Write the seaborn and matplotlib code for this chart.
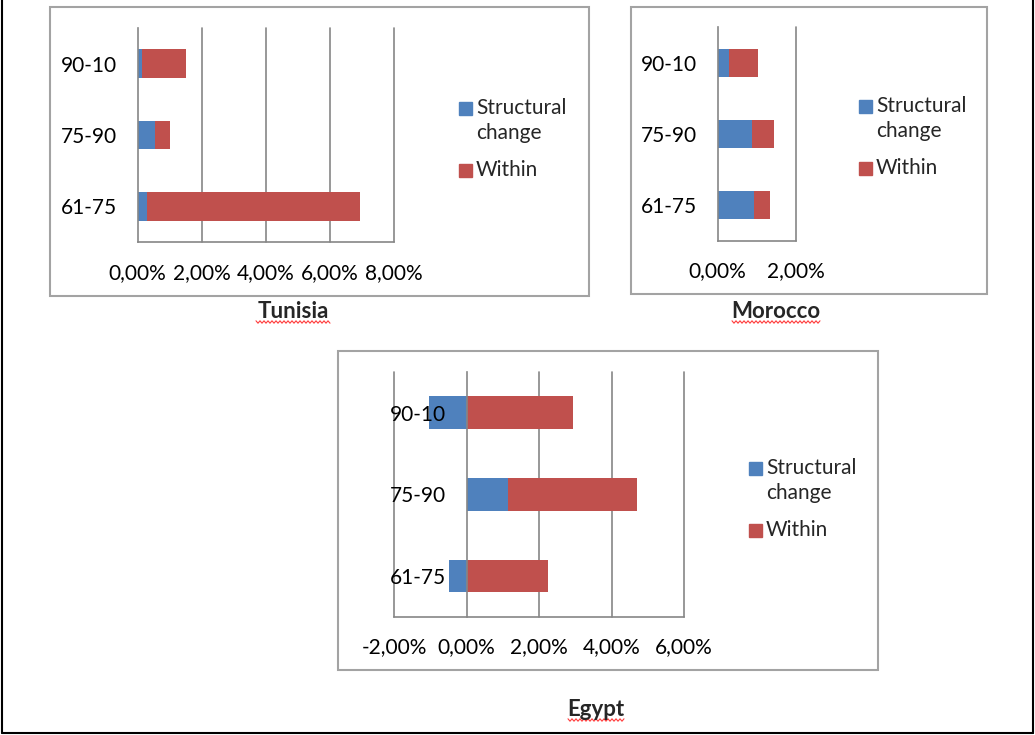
import numpy as np
import pandas as pd
import matplotlib
matplotlib.use('Agg')
import matplotlib.pyplot as plt
import matplotlib.ticker as mticker
from matplotlib.patches import Rectangle
from matplotlib.lines import Line2D
import seaborn as sns

# %%
# decomposition of growth (in %)
periods = ['90-10', '75-90', '61-75']

tunisia_structural = [0.12, 0.55, 0.29]
tunisia_within = [1.38, 0.47, 6.66]

morocco_structural = [0.29, 0.87, 0.92]
morocco_within = [0.75, 0.56, 0.42]

egypt_structural = [-1.05, 1.13, -0.49]
egypt_within = [2.94, 3.57, 2.24]

BLUE = '#4F81BD'
RED = '#C0504D'
GRID = '#868686'
BOX = '#A3A3A3'
FS = 15

sns.set_style('white')
plt.rcParams['font.family'] = ['Lato', 'DejaVu Sans']

W, H = 1035, 735
fig = plt.figure(figsize=(W / 100, H / 100), dpi=100)


def px(x0, y0, x1, y1):
    # pixel box (top-left origin) -> figure fraction rect
    return [x0 / W, 1 - y1 / H, (x1 - x0) / W, (y1 - y0) / H]


def pct(v, pos):
    return f'{v:.2f}%'.replace('.', ',')


def panel(box, structural, within, xlim, step):
    ax = fig.add_axes(px(*box))
    df = pd.DataFrame({'period': periods, 'structural': structural, 'within': within})
    # like Excel: red stacks after a positive blue, starts at zero after a negative one
    df['within_end'] = df['structural'].clip(lower=0) + df['within']

    sns.barplot(data=df, x='within_end', y='period', color=RED, width=0.4,
                saturation=1, errorbar=None, linewidth=0, ax=ax)
    sns.barplot(data=df, x='structural', y='period', color=BLUE, width=0.4,
                saturation=1, errorbar=None, linewidth=0, ax=ax)

    ax.set(xlabel='', ylabel='')
    ax.set_xlim(xlim)
    ax.set_ylim(len(periods) - 0.5, -0.5)
    ax.set_facecolor('none')
    ax.set_axisbelow(False)

    ax.xaxis.set_major_locator(mticker.MultipleLocator(step))
    ax.xaxis.set_major_formatter(mticker.FuncFormatter(pct))
    for v in ax.get_xticks():
        if xlim[0] - 1e-9 <= v <= xlim[1] + 1e-9 and abs(v) > 1e-9:
            ax.axvline(v, color=GRID, lw=1.2, zorder=0, clip_on=False)

    for s in ['top', 'right']:
        ax.spines[s].set_visible(False)
    ax.spines['left'].set_position(('data', 0))
    for s in ['left', 'bottom']:
        ax.spines[s].set_color(GRID)
        ax.spines[s].set_linewidth(1.2)

    ax.set_yticks(np.arange(len(periods) + 1) - 0.5, minor=True)
    ax.tick_params(axis='y', which='major', length=0, pad=15, labelsize=FS, labelcolor='black')
    ax.tick_params(axis='y', which='minor', length=6, width=1.2, color=GRID, direction='out')
    ax.tick_params(axis='x', which='major', length=5, width=1.2, color=GRID, direction='out',
                   pad=10, labelsize=FS, labelcolor='black')
    return ax


def legend(x, y):
    # x: left of the colour square, y: centre of the first text row (pixels)
    for color, row in [(BLUE, 0), (RED, 62)]:
        fig.add_artist(Rectangle(((x) / W, 1 - (y + row + 6.5) / H), 13 / W, 13 / H,
                                 transform=fig.transFigure, color=color))
    fig.text((x + 17) / W, 1 - y / H, 'Structural', fontsize=FS, va='center')
    fig.text((x + 17) / W, 1 - (y + 25) / H, 'change', fontsize=FS, va='center')
    fig.text((x + 17) / W, 1 - (y + 62) / H, 'Within', fontsize=FS, va='center')


def frame_box(x0, y0, x1, y1):
    fig.add_artist(Rectangle((x0 / W, 1 - y1 / H), (x1 - x0) / W, (y1 - y0) / H,
                             transform=fig.transFigure, fill=False, edgecolor=BOX, lw=1.5))


def title(text, xc, yc, x0, x1, yw):
    fig.text(xc / W, 1 - yc / H, text, fontsize=FS + 1, fontweight='bold', ha='center', va='center')
    # spell-check squiggle under the caption
    xs = np.arange(x0, x1 + 1, 2.0)
    ys = yw + np.where(np.arange(len(xs)) % 2 == 0, -1.2, 1.2)
    fig.add_artist(Line2D(xs / W, 1 - ys / H, transform=fig.transFigure, color='#FF3B3B', lw=0.8))


# %%
frame_box(50, 7, 589, 296)
frame_box(631, 7, 987, 294)
frame_box(338, 351, 878, 670)

panel((137.7, 28, 394, 242), tunisia_structural, tunisia_within, (0, 8), 2)
panel((717.7, 27.3, 796, 240.7), morocco_structural, morocco_within, (0, 2), 2)
panel((394.3, 371.7, 684, 616.7), egypt_structural, egypt_within, (-2, 6), 2)

legend(459, 108)
legend(859, 106)
legend(749, 468)

title('Tunisia', 293, 312, 256, 330, 322)
title('Morocco', 776, 312, 732, 820, 322)
title('Egypt', 596, 709, 568, 624, 720)

# outer page frame (left, bottom, right)
for xs, ys in [([1.5, 1.5], [0, 733]), ([1.5, 1033], [733, 733]), ([1033, 1033], [0, 733])]:
    fig.add_artist(Line2D(np.array(xs) / W, 1 - np.array(ys) / H, transform=fig.transFigure,
                          color='black', lw=1.5))

fig.savefig('out.png', dpi=100)
